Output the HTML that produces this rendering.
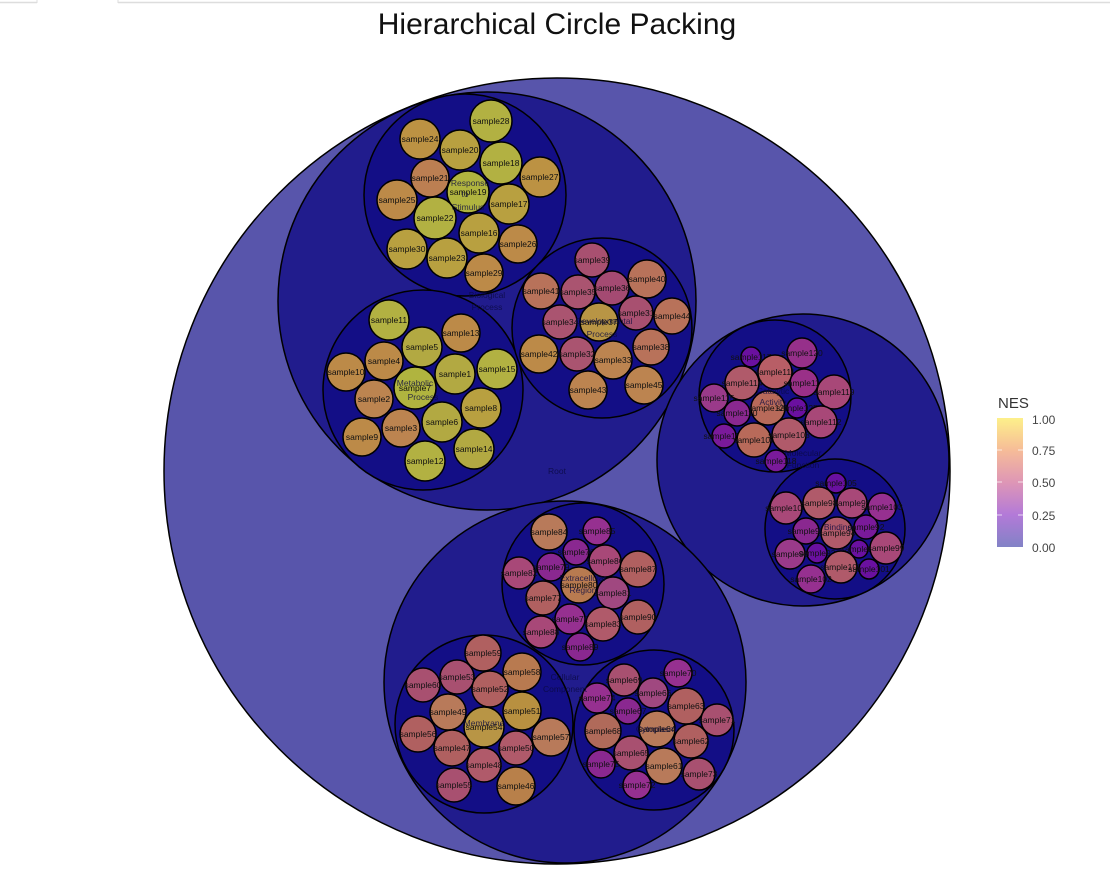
<!DOCTYPE html>
<html><head><meta charset="utf-8"><style>
html,body{margin:0;padding:0;background:#fff;width:1110px;height:893px;overflow:hidden}
svg{display:block}
text{font-family:"Liberation Sans",sans-serif}
.l text{font-size:8.5px;text-anchor:middle;dominant-baseline:central;fill:#111}
.l circle{stroke:#000;stroke-width:1.5}
.g{font-size:8.5px;text-anchor:middle;fill:#0a0a40;opacity:.8}
</style></head><body>
<svg width="1110" height="893" viewBox="0 0 1110 893">
<line x1="0" y1="2.5" x2="37" y2="2.5" stroke="#ddd" stroke-width="1.5"/>
<line x1="118" y1="2.5" x2="1110" y2="2.5" stroke="#ddd" stroke-width="1.5"/>
<line x1="37" y1="0" x2="37" y2="3" stroke="#ddd"/><line x1="118" y1="0" x2="118" y2="3" stroke="#ddd"/>
<text x="557" y="34" font-size="30" text-anchor="middle" fill="#111">Hierarchical Circle Packing</text>

<circle cx="557" cy="471" r="393" fill="#5855ab" stroke="#000" stroke-width="1.5"/>
<circle cx="487" cy="301" r="209" fill="#211c8d" stroke="#000" stroke-width="1.5"/>
<circle cx="803" cy="460" r="146" fill="#211c8d" stroke="#000" stroke-width="1.5"/>
<circle cx="565" cy="682" r="181" fill="#211c8d" stroke="#000" stroke-width="1.5"/>

<circle cx="465" cy="195" r="101" fill="#130e86" stroke="#000" stroke-width="1.5"/>
<circle cx="423" cy="390" r="100" fill="#130e86" stroke="#000" stroke-width="1.5"/>
<circle cx="602" cy="328" r="90" fill="#130e86" stroke="#000" stroke-width="1.5"/>
<circle cx="775" cy="396" r="76" fill="#130e86" stroke="#000" stroke-width="1.5"/>
<circle cx="835" cy="529" r="70" fill="#130e86" stroke="#000" stroke-width="1.5"/>
<circle cx="583" cy="584" r="81" fill="#130e86" stroke="#000" stroke-width="1.5"/>
<circle cx="484" cy="724" r="89" fill="#130e86" stroke="#000" stroke-width="1.5"/>
<circle cx="654" cy="730" r="80" fill="#130e86" stroke="#000" stroke-width="1.5"/>

<g class="l">
<g><circle cx="491" cy="121" r="21" fill="#b2b142"/><text x="491" y="121">sample28</text></g>
<g><circle cx="420" cy="139" r="20" fill="#bc9243"/><text x="420" y="139">sample24</text></g>
<g><circle cx="460" cy="150" r="20" fill="#b8a040"/><text x="460" y="150">sample20</text></g>
<g><circle cx="501" cy="163" r="21" fill="#b2b142"/><text x="501" y="163">sample18</text></g>
<g><circle cx="540" cy="177" r="20" fill="#bc9243"/><text x="540" y="177">sample27</text></g>
<g><circle cx="430" cy="178" r="19" fill="#bc7f52"/><text x="430" y="178">sample21</text></g>
<g><circle cx="468" cy="192" r="21" fill="#b0b43f"/><text x="468" y="192">sample19</text></g>
<g><circle cx="397" cy="200" r="20" fill="#bc8a48"/><text x="397" y="200">sample25</text></g>
<g><circle cx="509" cy="204" r="20" fill="#b8a040"/><text x="509" y="204">sample17</text></g>
<g><circle cx="435" cy="218" r="21" fill="#b2b142"/><text x="435" y="218">sample22</text></g>
<g><circle cx="479" cy="233" r="20" fill="#b8a040"/><text x="479" y="233">sample16</text></g>
<g><circle cx="518" cy="244" r="19" fill="#bc8a48"/><text x="518" y="244">sample26</text></g>
<g><circle cx="407" cy="249" r="20" fill="#b8a040"/><text x="407" y="249">sample30</text></g>
<g><circle cx="447" cy="258" r="20" fill="#b8a040"/><text x="447" y="258">sample23</text></g>
<g><circle cx="484" cy="273" r="19" fill="#bc8a48"/><text x="484" y="273">sample29</text></g>

<g><circle cx="389" cy="320" r="20" fill="#b2b142"/><text x="389" y="320">sample11</text></g>
<g><circle cx="461" cy="333" r="19" fill="#bc8a48"/><text x="461" y="333">sample13</text></g>
<g><circle cx="422" cy="347" r="20" fill="#b2a942"/><text x="422" y="347">sample5</text></g>
<g><circle cx="384" cy="361" r="19" fill="#bc8a48"/><text x="384" y="361">sample4</text></g>
<g><circle cx="346" cy="372" r="19" fill="#bc8a48"/><text x="346" y="372">sample10</text></g>
<g><circle cx="455" cy="374" r="20" fill="#b2a942"/><text x="455" y="374">sample1</text></g>
<g><circle cx="497" cy="369" r="20" fill="#b2b142"/><text x="497" y="369">sample15</text></g>
<g><circle cx="415" cy="388" r="21" fill="#b0b43f"/><text x="415" y="388">sample7</text></g>
<g><circle cx="374" cy="399" r="19" fill="#bc8450"/><text x="374" y="399">sample2</text></g>
<g><circle cx="481" cy="408" r="20" fill="#b8a040"/><text x="481" y="408">sample8</text></g>
<g><circle cx="442" cy="422" r="20" fill="#b2a942"/><text x="442" y="422">sample6</text></g>
<g><circle cx="401" cy="428" r="19" fill="#bc8450"/><text x="401" y="428">sample3</text></g>
<g><circle cx="362" cy="437" r="19" fill="#bc8a48"/><text x="362" y="437">sample9</text></g>
<g><circle cx="474" cy="449" r="20" fill="#b2a942"/><text x="474" y="449">sample14</text></g>
<g><circle cx="425" cy="461" r="20" fill="#b2b142"/><text x="425" y="461">sample12</text></g>

<g><circle cx="592" cy="260" r="17" fill="#a85070"/><text x="592" y="260">sample39</text></g>
<g><circle cx="647" cy="279" r="19" fill="#b8725a"/><text x="647" y="279">sample40</text></g>
<g><circle cx="541" cy="291" r="18" fill="#b8725a"/><text x="541" y="291">sample41</text></g>
<g><circle cx="578" cy="292" r="17" fill="#aa5470"/><text x="578" y="292">sample35</text></g>
<g><circle cx="612" cy="288" r="17" fill="#a44a72"/><text x="612" y="288">sample36</text></g>
<g><circle cx="672" cy="316" r="18" fill="#b8725a"/><text x="672" y="316">sample44</text></g>
<g><circle cx="560" cy="322" r="17" fill="#aa5470"/><text x="560" y="322">sample34</text></g>
<g><circle cx="599" cy="322" r="19" fill="#b89545"/><text x="599" y="322">sample37</text></g>
<g><circle cx="636" cy="313" r="17" fill="#a85070"/><text x="636" y="313">sample31</text></g>
<g><circle cx="651" cy="347" r="18" fill="#b8725a"/><text x="651" y="347">sample38</text></g>
<g><circle cx="539" cy="354" r="19" fill="#bc8a48"/><text x="539" y="354">sample42</text></g>
<g><circle cx="577" cy="354" r="17" fill="#aa5470"/><text x="577" y="354">sample32</text></g>
<g><circle cx="613" cy="360" r="19" fill="#bc8450"/><text x="613" y="360">sample33</text></g>
<g><circle cx="588" cy="390" r="19" fill="#bc8450"/><text x="588" y="390">sample43</text></g>
<g><circle cx="644" cy="385" r="19" fill="#bc8450"/><text x="644" y="385">sample45</text></g>

<g><circle cx="751" cy="357" r="10" fill="#6a10a0"/><text x="751" y="357">sample117</text></g>
<g><circle cx="802" cy="353" r="15" fill="#96308a"/><text x="802" y="353">sample120</text></g>
<g><circle cx="775" cy="372" r="17" fill="#b85e66"/><text x="775" y="372">sample111</text></g>
<g><circle cx="742" cy="383" r="17" fill="#b05a6a"/><text x="742" y="383">sample114</text></g>
<g><circle cx="804" cy="383" r="14" fill="#9a3088"/><text x="804" y="383">sample113</text></g>
<g><circle cx="834" cy="392" r="17" fill="#a84878"/><text x="834" y="392">sample119</text></g>
<g><circle cx="714" cy="398" r="14" fill="#9a3a8a"/><text x="714" y="398">sample115</text></g>
<g><circle cx="768" cy="408" r="17" fill="#b86a5a"/><text x="768" y="408">sample121</text></g>
<g><circle cx="797" cy="408" r="10" fill="#6a10a0"/><text x="797" y="408">sample125</text></g>
<g><circle cx="737" cy="413" r="13" fill="#8a2890"/><text x="737" y="413">sample110</text></g>
<g><circle cx="821" cy="422" r="16" fill="#a84878"/><text x="821" y="422">sample112</text></g>
<g><circle cx="724" cy="436" r="12" fill="#7a1a9a"/><text x="724" y="436">sample116</text></g>
<g><circle cx="754" cy="440" r="17" fill="#b86a5a"/><text x="754" y="440">sample107</text></g>
<g><circle cx="789" cy="435" r="17" fill="#b05a6a"/><text x="789" y="435">sample108</text></g>
<g><circle cx="776" cy="461" r="11" fill="#7a1a9a"/><text x="776" y="461">sample118</text></g>

<g><circle cx="836" cy="483" r="10" fill="#6a10a0"/><text x="836" y="483">sample105</text></g>
<g><circle cx="786" cy="508" r="16" fill="#a84878"/><text x="786" y="508">sample104</text></g>
<g><circle cx="819" cy="503" r="16" fill="#b05a6a"/><text x="819" y="503">sample98</text></g>
<g><circle cx="852" cy="503" r="15" fill="#a84878"/><text x="852" y="503">sample97</text></g>
<g><circle cx="882" cy="507" r="14" fill="#963090"/><text x="882" y="507">sample103</text></g>
<g><circle cx="806" cy="531" r="13" fill="#8a2890"/><text x="806" y="531">sample95</text></g>
<g><circle cx="837" cy="533" r="16" fill="#b05a6a"/><text x="837" y="533">sample94</text></g>
<g><circle cx="866" cy="527" r="12" fill="#7a1a9a"/><text x="866" y="527">sample92</text></g>
<g><circle cx="790" cy="554" r="15" fill="#9a3a8a"/><text x="790" y="554">sample96</text></g>
<g><circle cx="817" cy="553" r="10" fill="#6a10a0"/><text x="817" y="553">sample93</text></g>
<g><circle cx="859" cy="549" r="9" fill="#6a10a0"/><text x="859" y="549">sample91</text></g>
<g><circle cx="886" cy="548" r="16" fill="#a84878"/><text x="886" y="548">sample99</text></g>
<g><circle cx="841" cy="567" r="16" fill="#b05a6a"/><text x="841" y="567">sample100</text></g>
<g><circle cx="869" cy="569" r="10" fill="#6a10a0"/><text x="869" y="569">sample101</text></g>
<g><circle cx="811" cy="579" r="14" fill="#963090"/><text x="811" y="579">sample102</text></g>

<g><circle cx="549" cy="532" r="18" fill="#b87a5a"/><text x="549" y="532">sample84</text></g>
<g><circle cx="597" cy="531" r="14" fill="#963090"/><text x="597" y="531">sample85</text></g>
<g><circle cx="576" cy="552" r="13" fill="#8a2890"/><text x="576" y="552">sample76</text></g>
<g><circle cx="605" cy="561" r="16" fill="#a84878"/><text x="605" y="561">sample86</text></g>
<g><circle cx="638" cy="569" r="18" fill="#b06060"/><text x="638" y="569">sample87</text></g>
<g><circle cx="519" cy="573" r="16" fill="#a84878"/><text x="519" y="573">sample82</text></g>
<g><circle cx="551" cy="567" r="14" fill="#8a2890"/><text x="551" y="567">sample79</text></g>
<g><circle cx="579" cy="585" r="18" fill="#b87a50"/><text x="579" y="585">sample80</text></g>
<g><circle cx="613" cy="593" r="16" fill="#a04880"/><text x="613" y="593">sample81</text></g>
<g><circle cx="543" cy="598" r="17" fill="#b06060"/><text x="543" y="598">sample77</text></g>
<g><circle cx="638" cy="617" r="17" fill="#b06060"/><text x="638" y="617">sample90</text></g>
<g><circle cx="570" cy="619" r="15" fill="#963090"/><text x="570" y="619">sample78</text></g>
<g><circle cx="603" cy="624" r="17" fill="#b05a6a"/><text x="603" y="624">sample83</text></g>
<g><circle cx="541" cy="632" r="16" fill="#a84878"/><text x="541" y="632">sample88</text></g>
<g><circle cx="580" cy="647" r="14" fill="#8a2890"/><text x="580" y="647">sample89</text></g>

<g><circle cx="483" cy="653" r="18" fill="#b06060"/><text x="483" y="653">sample59</text></g>
<g><circle cx="522" cy="672" r="19" fill="#b87a50"/><text x="522" y="672">sample58</text></g>
<g><circle cx="457" cy="677" r="17" fill="#a85070"/><text x="457" y="677">sample53</text></g>
<g><circle cx="423" cy="685" r="17" fill="#a85070"/><text x="423" y="685">sample60</text></g>
<g><circle cx="490" cy="689" r="18" fill="#b06060"/><text x="490" y="689">sample52</text></g>
<g><circle cx="522" cy="711" r="19" fill="#b89040"/><text x="522" y="711">sample51</text></g>
<g><circle cx="448" cy="712" r="18" fill="#b87a5a"/><text x="448" y="712">sample49</text></g>
<g><circle cx="484" cy="727" r="20" fill="#b89545"/><text x="484" y="727">sample54</text></g>
<g><circle cx="418" cy="734" r="18" fill="#b06060"/><text x="418" y="734">sample56</text></g>
<g><circle cx="551" cy="737" r="19" fill="#b87a5a"/><text x="551" y="737">sample57</text></g>
<g><circle cx="452" cy="748" r="18" fill="#b06060"/><text x="452" y="748">sample47</text></g>
<g><circle cx="516" cy="748" r="17" fill="#b05a6a"/><text x="516" y="748">sample50</text></g>
<g><circle cx="484" cy="765" r="17" fill="#b05a6a"/><text x="484" y="765">sample48</text></g>
<g><circle cx="454" cy="785" r="17" fill="#a85070"/><text x="454" y="785">sample55</text></g>
<g><circle cx="516" cy="786" r="19" fill="#b8804a"/><text x="516" y="786">sample46</text></g>

<g><circle cx="624" cy="680" r="16" fill="#a85070"/><text x="624" y="680">sample69</text></g>
<g><circle cx="678" cy="673" r="14" fill="#963090"/><text x="678" y="673">sample70</text></g>
<g><circle cx="597" cy="698" r="15" fill="#963090"/><text x="597" y="698">sample74</text></g>
<g><circle cx="653" cy="693" r="15" fill="#a04880"/><text x="653" y="693">sample66</text></g>
<g><circle cx="686" cy="706" r="18" fill="#b06060"/><text x="686" y="706">sample63</text></g>
<g><circle cx="628" cy="711" r="13" fill="#8a2890"/><text x="628" y="711">sample67</text></g>
<g><circle cx="717" cy="720" r="16" fill="#a85070"/><text x="717" y="720">sample71</text></g>
<g><circle cx="603" cy="731" r="18" fill="#b06a5a"/><text x="603" y="731">sample68</text></g>
<g><circle cx="657" cy="729" r="18" fill="#b87a5a"/><text x="657" y="729">sample64</text></g>
<g><circle cx="691" cy="741" r="17" fill="#b06060"/><text x="691" y="741">sample62</text></g>
<g><circle cx="631" cy="753" r="17" fill="#a85070"/><text x="631" y="753">sample65</text></g>
<g><circle cx="601" cy="764" r="14" fill="#8a2890"/><text x="601" y="764">sample75</text></g>
<g><circle cx="664" cy="766" r="18" fill="#b87a5a"/><text x="664" y="766">sample61</text></g>
<g><circle cx="699" cy="774" r="16" fill="#a85070"/><text x="699" y="774">sample73</text></g>
<g><circle cx="637" cy="785" r="14" fill="#963090"/><text x="637" y="785">sample72</text></g>
</g>

<g class="g">
<text x="470" y="186">Response</text><text x="465" y="197">to</text><text x="468" y="210">Stimulus</text>
<text x="487" y="298">Biological</text><text x="487" y="310">Process</text>
<text x="415" y="386">Metabolic</text><text x="423" y="400">Process</text>
<text x="604" y="324">Developmental</text><text x="602" y="337">Process</text>
<text x="557" y="474">Root</text>
<text x="773" y="394">Catalytic</text><text x="773" y="405">Activity</text>
<text x="803" y="456">Molecular</text><text x="803" y="468">Function</text>
<text x="838" y="530">Binding</text>
<text x="583" y="581">Extracellular</text><text x="583" y="593">Region</text>
<text x="565" y="680">Cellular</text><text x="565" y="692">Component</text>
<text x="484" y="726">Membrane</text>
<text x="656" y="732">Cytoplasm</text>
</g>

<defs><linearGradient id="lg" x1="0" y1="0" x2="0" y2="1">
<stop offset="0" stop-color="#fdf08a"/><stop offset="0.25" stop-color="#f6bc98"/>
<stop offset="0.5" stop-color="#de96b6"/><stop offset="0.75" stop-color="#b37ad8"/>
<stop offset="1" stop-color="#8282c6"/></linearGradient></defs>
<text x="998" y="408" font-size="15" fill="#333">NES</text>
<rect x="997" y="418" width="26" height="129" fill="url(#lg)"/>
<g stroke="#fff" stroke-opacity=".7"><line x1="997" y1="450" x2="1002" y2="450"/><line x1="1018" y1="450" x2="1023" y2="450"/>
<line x1="997" y1="482" x2="1002" y2="482"/><line x1="1018" y1="482" x2="1023" y2="482"/>
<line x1="997" y1="515" x2="1002" y2="515"/><line x1="1018" y1="515" x2="1023" y2="515"/></g>
<g font-size="12" fill="#444">
<text x="1032" y="424">1.00</text><text x="1032" y="455">0.75</text><text x="1032" y="487">0.50</text>
<text x="1032" y="520">0.25</text><text x="1032" y="552">0.00</text></g>
</svg>
</body></html>
